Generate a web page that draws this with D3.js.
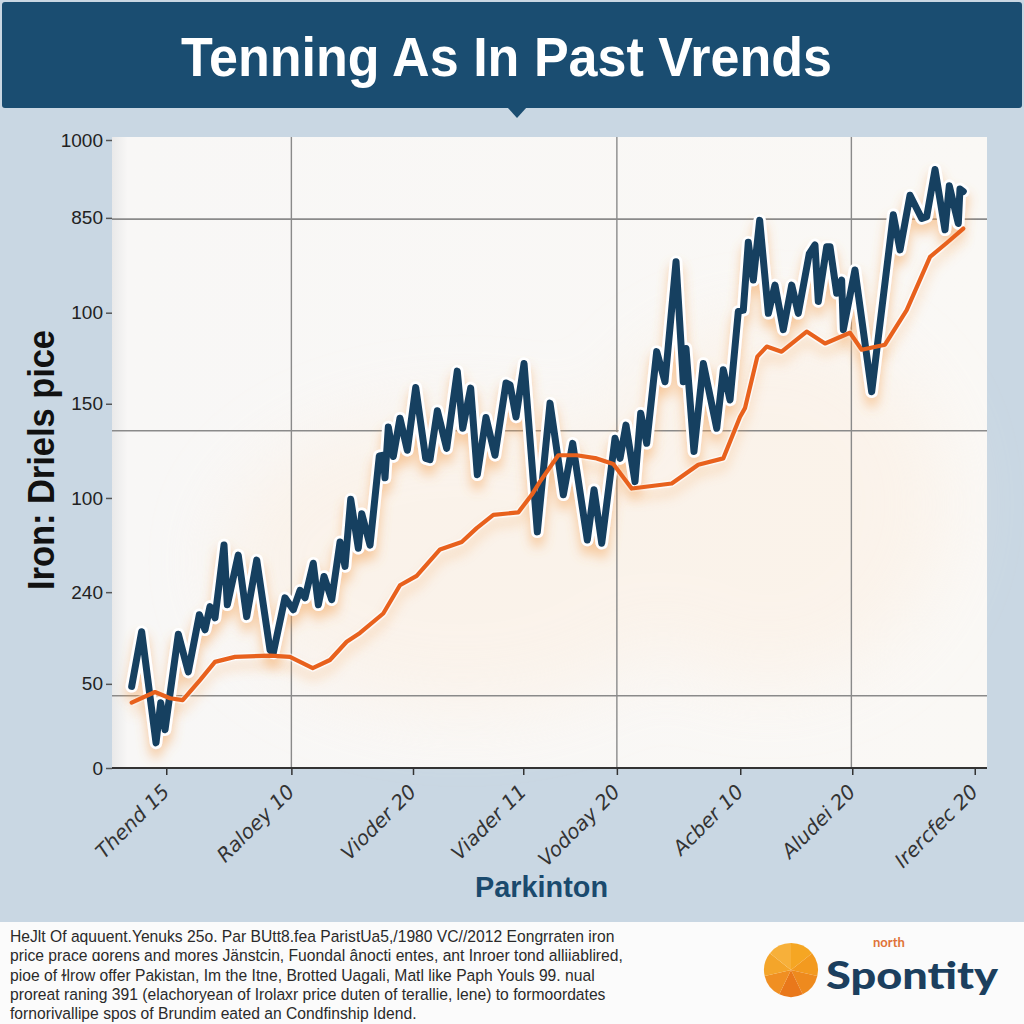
<!DOCTYPE html>
<html><head><meta charset="utf-8">
<script src="https://cdn.jsdelivr.net/npm/d3@7"></script>
<style>html,body{margin:0;padding:0;background:#c9d7e3;}svg{display:block;}</style>
</head><body>
<script>
// ---- data ----
const titleText = "Tenning As In Past Vrends";
const yAxisTitle = "Iron: Driels pice";
const xAxisTitle = "Parkinton";
const yTickValues = [0, 134, 280, 430, 580, 725, 876, 1000];
const yTickLabels = ["0", "50", "240", "100", "150", "100", "850", "1000"];
const xTickValues = [6.2, 20.5, 34.4, 47.0, 57.7, 71.8, 84.6, 98.6];
const xTickLabels = ["Thend 15", "Raloey 10", "Vioder 20", "Viader 11", "Vodoay 20", "Acber 10", "Aludei 20", "Irercfec 20"];
const xGridValues = [20.5, 57.7, 84.5];
const yGridValues = [874, 537, 115];
const priceT = [2.25,3.39,5.03,5.57,6.06,7.58,8.72,9.98,10.63,11.2,11.77,12.8,13.18,14.43,15.39,16.54,18.06,18.43,19.77,20.72,21.49,22.06,23.0,23.58,24.23,25.11,26.06,26.63,27.28,28.15,28.54,29.49,30.55,31.0,31.2,31.58,32.15,32.91,33.75,34.71,35.85,36.34,37.18,38.25,39.46,40.08,40.99,41.75,42.74,43.77,45.03,45.49,46.17,47.09,48.61,50.06,51.58,52.65,54.32,55.09,55.97,57.49,58.06,58.74,59.77,60.42,61.11,62.25,63.2,64.46,65.29,65.6,66.51,67.58,69.11,69.86,70.63,71.58,72.15,72.72,73.29,74.02,75.01,75.77,76.72,77.68,78.43,79.69,80.34,80.72,81.68,82.06,82.82,83.39,83.58,84.91,86.82,89.29,90.06,91.2,92.54,93.11,94.06,95.2,95.69,96.72,96.91,97.29];
const priceV = [130,217,40,104,61,213,153,244,220,257,239,355,260,339,241,331,188,183,271,252,283,271,326,260,305,268,360,321,428,350,405,355,497,498,462,543,496,557,506,606,493,491,569,509,632,541,605,467,558,498,613,610,559,644,376,581,435,517,363,443,358,525,493,546,456,565,517,663,615,806,615,668,504,644,541,634,586,727,729,837,777,872,724,769,698,769,724,819,833,743,830,830,756,777,698,793,599,881,825,912,875,878,953,857,927,867,922,918];
const avgT = [2.25,4.91,6.63,8.08,10.06,11.77,14.06,18.06,20.34,22.94,24.91,26.82,28.34,31.0,32.91,34.82,37.49,39.97,41.68,43.58,46.43,47.97,48.91,51.01,53.11,55.39,57.29,59.39,63.97,67.0,69.86,71.77,72.34,73.75,74.82,76.53,79.39,81.49,84.34,85.68,88.34,90.82,93.49,95.39,97.29];
const avgV = [104,121,111,108,140,169,177,179,177,159,172,201,215,246,291,306,348,360,382,403,407,435,456,498,498,493,484,445,453,483,493,559,573,655,671,663,695,676,693,666,674,729,814,836,859];
const footerLines = [
  "HeJlt Of aquuent.Yenuks 25o. Par BUtt8.fea ParistUa5,/1980 VC//2012 Eongrraten iron",
  "price prace \u0251orens and mores J\u00e4nstcin, Fuondal \u00e2nocti entes, ant Inroer tond alliiablired,",
  "pioe of \u026blrow offer Pakistan, Im the Itne, Brotted Uagali, Matl like Paph Youls 99. nual",
  "proreat raning 391 (elachoryean of Irolaxr price duten of terallie, lene) to formoordates",
  "fornorivallipe spos of Brundim eated an Condfinship Idend."
];
const logoSmall = "north";
const logoBig = "Spontity";
const logoSlices = [1,1,1,1,1,1,1];
const logoColors = ["#f5a623","#f39a1f","#ee8a1e","#e9781b","#f08f22","#f4a52a","#f7b03a"];

// ---- drawing ----
const W = 1024, H = 1024;
const svg = d3.select("body").append("svg").attr("width", W).attr("height", H);
const defs = svg.append("defs");

const glow = defs.append("filter").attr("id","glow").attr("x","-10%").attr("y","-10%").attr("width","120%").attr("height","130%");
glow.append("feGaussianBlur").attr("in","SourceAlpha").attr("stdDeviation",6).attr("result","b");
glow.append("feOffset").attr("in","b").attr("dy",9).attr("result","o");
glow.append("feFlood").attr("flood-color","#f4a050").attr("flood-opacity",0.5).attr("result","f");
glow.append("feComposite").attr("in","f").attr("in2","o").attr("operator","in").attr("result","s");
const gm = glow.append("feMerge"); gm.append("feMergeNode").attr("in","s"); gm.append("feMergeNode").attr("in","SourceGraphic");

const soft = defs.append("filter").attr("id","soft").attr("x","-30%").attr("y","-30%").attr("width","160%").attr("height","160%");
soft.append("feGaussianBlur").attr("stdDeviation",35);

const plotGrad = defs.append("linearGradient").attr("id","pg").attr("x1",0).attr("x2",1).attr("y1",0).attr("y2",0);
plotGrad.append("stop").attr("offset","0%").attr("stop-color","#e9e9e9");
plotGrad.append("stop").attr("offset","1.8%").attr("stop-color","#f8f7f6");
plotGrad.append("stop").attr("offset","100%").attr("stop-color","#faf8f5");

svg.append("rect").attr("width",W).attr("height",H).attr("fill","#c9d7e3");

// title banner
svg.append("rect").attr("x",2).attr("y",2).attr("width",1020).attr("height",106).attr("rx",3).attr("fill","#1a4d71");
svg.append("path").attr("d", d3.line()([[507,107],[527,107],[517,118]])).attr("fill","#1a4d71");
svg.append("text").attr("x",181).attr("y",76)
  .attr("font-family","'Liberation Sans',Arial,sans-serif")
  .attr("font-weight","bold").attr("font-size",55).attr("fill","#ffffff")
  .attr("textLength",651).attr("lengthAdjust","spacingAndGlyphs").text(titleText);

const x = d3.scaleLinear().domain([0,100]).range([112,987]);
const y = d3.scaleLinear().domain([0,1000]).range([768,140]);

// plot bg
svg.append("rect").attr("x",112).attr("y",137).attr("width",875).attr("height",631).attr("fill","url(#pg)");
const haze = svg.append("g").attr("filter","url(#soft)").attr("opacity",0.55);
haze.append("ellipse").attr("cx",x(40)).attr("cy",y(330)).attr("rx",240).attr("ry",150).attr("fill","#fcefe2");
haze.append("ellipse").attr("cx",x(75)).attr("cy",y(420)).attr("rx",180).attr("ry",180).attr("fill","#fcefe2");

// grid
svg.append("g").selectAll("line").data(xGridValues).join("line")
  .attr("x1",d=>x(d)).attr("x2",d=>x(d)).attr("y1",137).attr("y2",768)
  .attr("stroke","#8a8a8a").attr("stroke-width",1.4);
svg.append("g").selectAll("line").data(yGridValues).join("line")
  .attr("x1",112).attr("x2",987).attr("y1",d=>y(d)).attr("y2",d=>y(d))
  .attr("stroke","#8a8a8a").attr("stroke-width",1.6);

// y axis
const ya = svg.append("g").attr("transform","translate(112,0)")
  .call(d3.axisLeft(y).tickValues(yTickValues).tickFormat((d,i)=>yTickLabels[i]).tickSize(6).tickPadding(3));
ya.select(".domain").remove();
ya.selectAll(".tick line").attr("stroke","#555").attr("stroke-width",1.5);
ya.selectAll(".tick text").attr("font-family","'Liberation Sans',Arial,sans-serif").attr("font-size",19).attr("fill","#222");

// x axis
const xa = svg.append("g").attr("transform","translate(0,768)")
  .call(d3.axisBottom(x).tickValues(xTickValues).tickFormat((d,i)=>xTickLabels[i]).tickSize(7));
xa.select(".domain").attr("d","M112,0H987").attr("stroke","#333").attr("stroke-width",2.2);
xa.selectAll(".tick line").attr("stroke","#333").attr("stroke-width",1.5);
xa.selectAll(".tick text")
  .attr("font-family","'DejaVu Sans','Liberation Sans',sans-serif").attr("font-style","italic").attr("font-weight",300)
  .attr("font-size",20).attr("fill","#333").attr("text-anchor","end")
  .attr("transform","translate(-6,15) rotate(-45)").attr("dy","0.7em").attr("y",0);

// lines
const line = d3.line().x(d=>x(d[0])).y(d=>y(d[1])).curve(d3.curveLinear);
const priceData = priceT.map((t,i)=>[t, priceV[i]]);
const avgData = avgT.map((t,i)=>[t, avgV[i]]);

svg.append("path").datum(avgData).attr("d",line).attr("fill","none")
  .attr("stroke","#ffffff").attr("stroke-width",7).attr("stroke-linejoin","round").attr("opacity",0.6).attr("filter","url(#glow)");
const pg = svg.append("g").attr("filter","url(#glow)");
pg.append("path").datum(priceData).attr("d",line).attr("fill","none")
  .attr("stroke","#ffffff").attr("stroke-width",12.5).attr("stroke-linejoin","round").attr("stroke-linecap","round");
pg.append("path").datum(priceData).attr("d",line).attr("fill","none")
  .attr("stroke","#173f61").attr("stroke-width",7).attr("stroke-linejoin","round").attr("stroke-linecap","round");
svg.append("path").datum(avgData).attr("d",line).attr("fill","none")
  .attr("stroke","#e8611d").attr("stroke-width",4.2).attr("stroke-linejoin","round").attr("stroke-linecap","round");

// axis titles
svg.append("text").attr("transform","translate(54,590) rotate(-90)")
  .attr("font-family","'Liberation Sans',Arial,sans-serif").attr("font-weight","bold")
  .attr("font-size",36).attr("fill","#111").attr("textLength",260).attr("lengthAdjust","spacingAndGlyphs").text(yAxisTitle);
svg.append("text").attr("x",475).attr("y",897)
  .attr("font-family","'Liberation Sans',Arial,sans-serif").attr("font-weight","bold")
  .attr("font-size",29).attr("fill","#1a4a6e").attr("textLength",133).attr("lengthAdjust","spacingAndGlyphs").text(xAxisTitle);

// footer
svg.append("rect").attr("x",0).attr("y",922).attr("width",W).attr("height",102).attr("fill","#fbfbfb");
svg.append("g").attr("transform","translate(10,0) scale(0.95,1)").selectAll("text").data(footerLines).join("text")
  .attr("x",0).attr("y",(d,i)=>942+i*19.3)
  .attr("font-family","'Liberation Sans',Arial,sans-serif").attr("font-size",16.5).attr("fill","#2a2a2a")
  .text(d=>d);

// logo
const pie = d3.pie().sort(null)(logoSlices);
const arc = d3.arc().innerRadius(0).outerRadius(27);
svg.append("g").attr("transform","translate(791,970)").selectAll("path").data(pie).join("path")
  .attr("d",arc).attr("fill",(d,i)=>logoColors[i]);
svg.append("text").attr("x",873).attr("y",947).attr("font-family","Lato,'Open Sans',sans-serif").attr("font-weight","bold")
  .attr("font-size",13).attr("fill","#e07338").text(logoSmall);
svg.append("text").attr("x",826).attr("y",989).attr("font-family","Lato,'Open Sans',sans-serif").attr("font-weight",900)
  .attr("font-size",38).attr("fill","#1c3f5e").attr("textLength",172).attr("lengthAdjust","spacingAndGlyphs").text(logoBig);
</script>
</body></html>
